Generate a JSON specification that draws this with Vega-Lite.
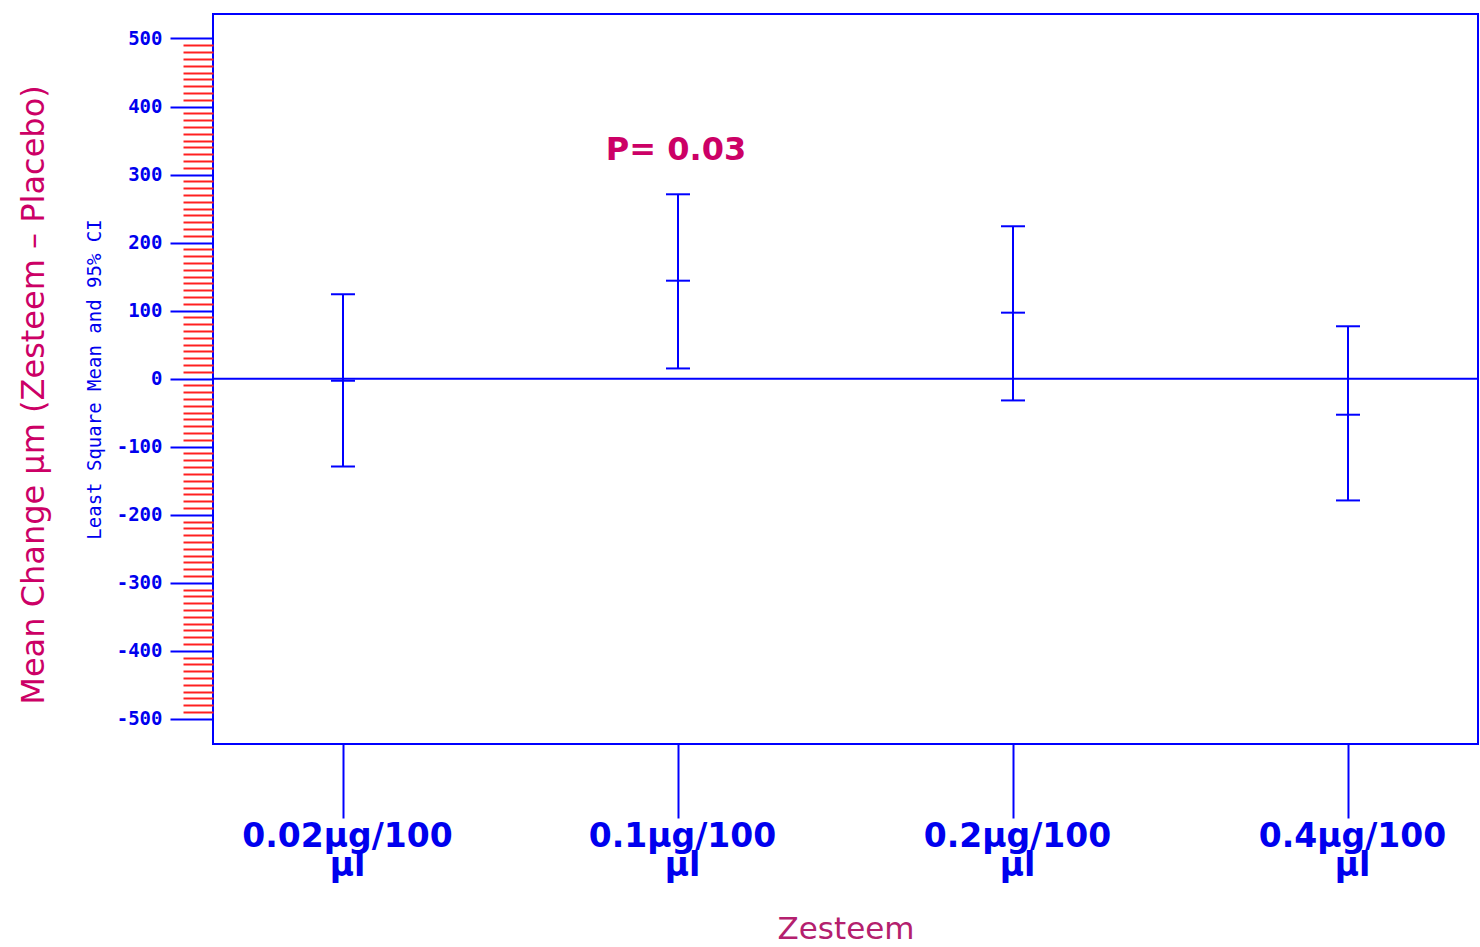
{
  "$schema": "https://vega.github.io/schema/vega-lite/v6.json",
  "width": 1265,
  "height": 730,
  "autosize": {"type": "none"},
  "padding": {"left": 213, "top": 14, "right": 2, "bottom": 203},
  "background": "white",
  "title": {
    "text": "Mean Change µm (Zesteem – Placebo)",
    "orient": "left",
    "anchor": "middle",
    "font": "DejaVu Sans",
    "fontSize": 32,
    "fontWeight": "normal",
    "color": "#CC0066",
    "offset": 34,
    "dx": -16
  },
  "config": {"view": {"stroke": "#0000FF", "strokeWidth": 2}},
  "datasets": {
    "ci": [
      {"dose": "0.02µg/100 µl", "mean": -3, "lower": -129, "upper": 124},
      {"dose": "0.1µg/100 µl", "mean": 144, "lower": 15, "upper": 271},
      {"dose": "0.2µg/100 µl", "mean": 97, "lower": -32, "upper": 224},
      {"dose": "0.4µg/100 µl", "mean": -53, "lower": -179, "upper": 77}
    ],
    "zero": [{"value": 0}],
    "note": [{"dose": "0.1µg/100 µl", "y": 322, "text": "P= 0.03"}]
  },
  "layer": [
    {
      "data": {"name": "ci"},
      "mark": {"type": "rule", "color": "#0000FF", "strokeWidth": 2},
      "encoding": {
        "x": {
          "field": "dose", "type": "nominal", "sort": null,
          "scale": {"type": "point", "padding": 0.388},
          "axis": {
            "title": "Zesteem",
            "titleFont": "DejaVu Sans",
            "titleFontSize": 31,
            "titleFontWeight": "normal",
            "titleColor": "#B4206E",
            "titlePadding": 32,
            "labelExpr": "split(datum.label, ' ')",
            "labelFont": "DejaVu Sans",
            "labelFontSize": 33,
            "labelFontWeight": "bold",
            "labelColor": "#0000EE",
            "labelLineHeight": 29,
            "labelPadding": 2,
            "labelLimit": 0,
            "labelOffset": 4,
            "labelAngle": 0,
            "tickSize": 74,
            "tickColor": "#0000FF",
            "tickWidth": 2,
            "domain": false,
            "grid": false
          }
        },
        "y": {
          "field": "lower", "type": "quantitative",
          "scale": {"domain": [-537, 536], "nice": false, "zero": false},
          "axis": {
            "title": "Least Square Mean and 95% CI",
            "titleFont": "DejaVu Sans Mono",
            "titleFontSize": 19,
            "titleFontWeight": "normal",
            "titleColor": "#0000EE",
            "titlePadding": 12,
            "tickCount": 1000,
            "values": [-500,-490,-480,-470,-460,-450,-440,-430,-420,-410,-400,-390,-380,-370,-360,-350,-340,-330,-320,-310,-300,-290,-280,-270,-260,-250,-240,-230,-220,-210,-200,-190,-180,-170,-160,-150,-140,-130,-120,-110,-100,-90,-80,-70,-60,-50,-40,-30,-20,-10,0,10,20,30,40,50,60,70,80,90,100,110,120,130,140,150,160,170,180,190,200,210,220,230,240,250,260,270,280,290,300,310,320,330,340,350,360,370,380,390,400,410,420,430,440,450,460,470,480,490,500],
            "labelExpr": "datum.value % 100 === 0 ? '' + datum.value : ''",
            "labelFont": "DejaVu Sans Mono",
            "labelFontSize": 19,
            "labelFontWeight": "bold",
            "labelColor": "#0000EE",
            "labelOverlap": false,
            "labelPadding": 8,
            "tickColor": {"condition": {"test": "datum.value % 100 === 0", "value": "#0000FF"}, "value": "#FF2020"},
            "tickSize": {"condition": {"test": "datum.value % 100 === 0", "value": 43}, "value": 30},
            "tickWidth": 2,
            "domain": false,
            "grid": false
          }
        },
        "y2": {"field": "upper"}
      }
    },
    {
      "data": {"name": "zero"},
      "mark": {"type": "rule", "color": "#0000FF", "strokeWidth": 2},
      "encoding": {
        "y": {"field": "value", "type": "quantitative"}
      }
    },
    {
      "data": {"name": "ci"},
      "mark": {"type": "tick", "color": "#0000FF", "size": 24, "thickness": 2, "opacity": 1},
      "encoding": {
        "x": {"field": "dose", "type": "nominal", "sort": null},
        "y": {"field": "lower", "type": "quantitative"}
      }
    },
    {
      "data": {"name": "ci"},
      "mark": {"type": "tick", "color": "#0000FF", "size": 24, "thickness": 2, "opacity": 1},
      "encoding": {
        "x": {"field": "dose", "type": "nominal", "sort": null},
        "y": {"field": "upper", "type": "quantitative"}
      }
    },
    {
      "data": {"name": "ci"},
      "mark": {"type": "tick", "color": "#0000FF", "size": 24, "thickness": 2, "opacity": 1},
      "encoding": {
        "x": {"field": "dose", "type": "nominal", "sort": null},
        "y": {"field": "mean", "type": "quantitative"}
      }
    },
    {
      "data": {"name": "note"},
      "mark": {"type": "text", "font": "DejaVu Sans", "fontSize": 32, "fontWeight": "bold", "color": "#CC0066", "align": "center", "baseline": "alphabetic", "dx": -2},
      "encoding": {
        "x": {"field": "dose", "type": "nominal", "sort": null},
        "y": {"field": "y", "type": "quantitative"},
        "text": {"field": "text", "type": "nominal"}
      }
    }
  ]
}
